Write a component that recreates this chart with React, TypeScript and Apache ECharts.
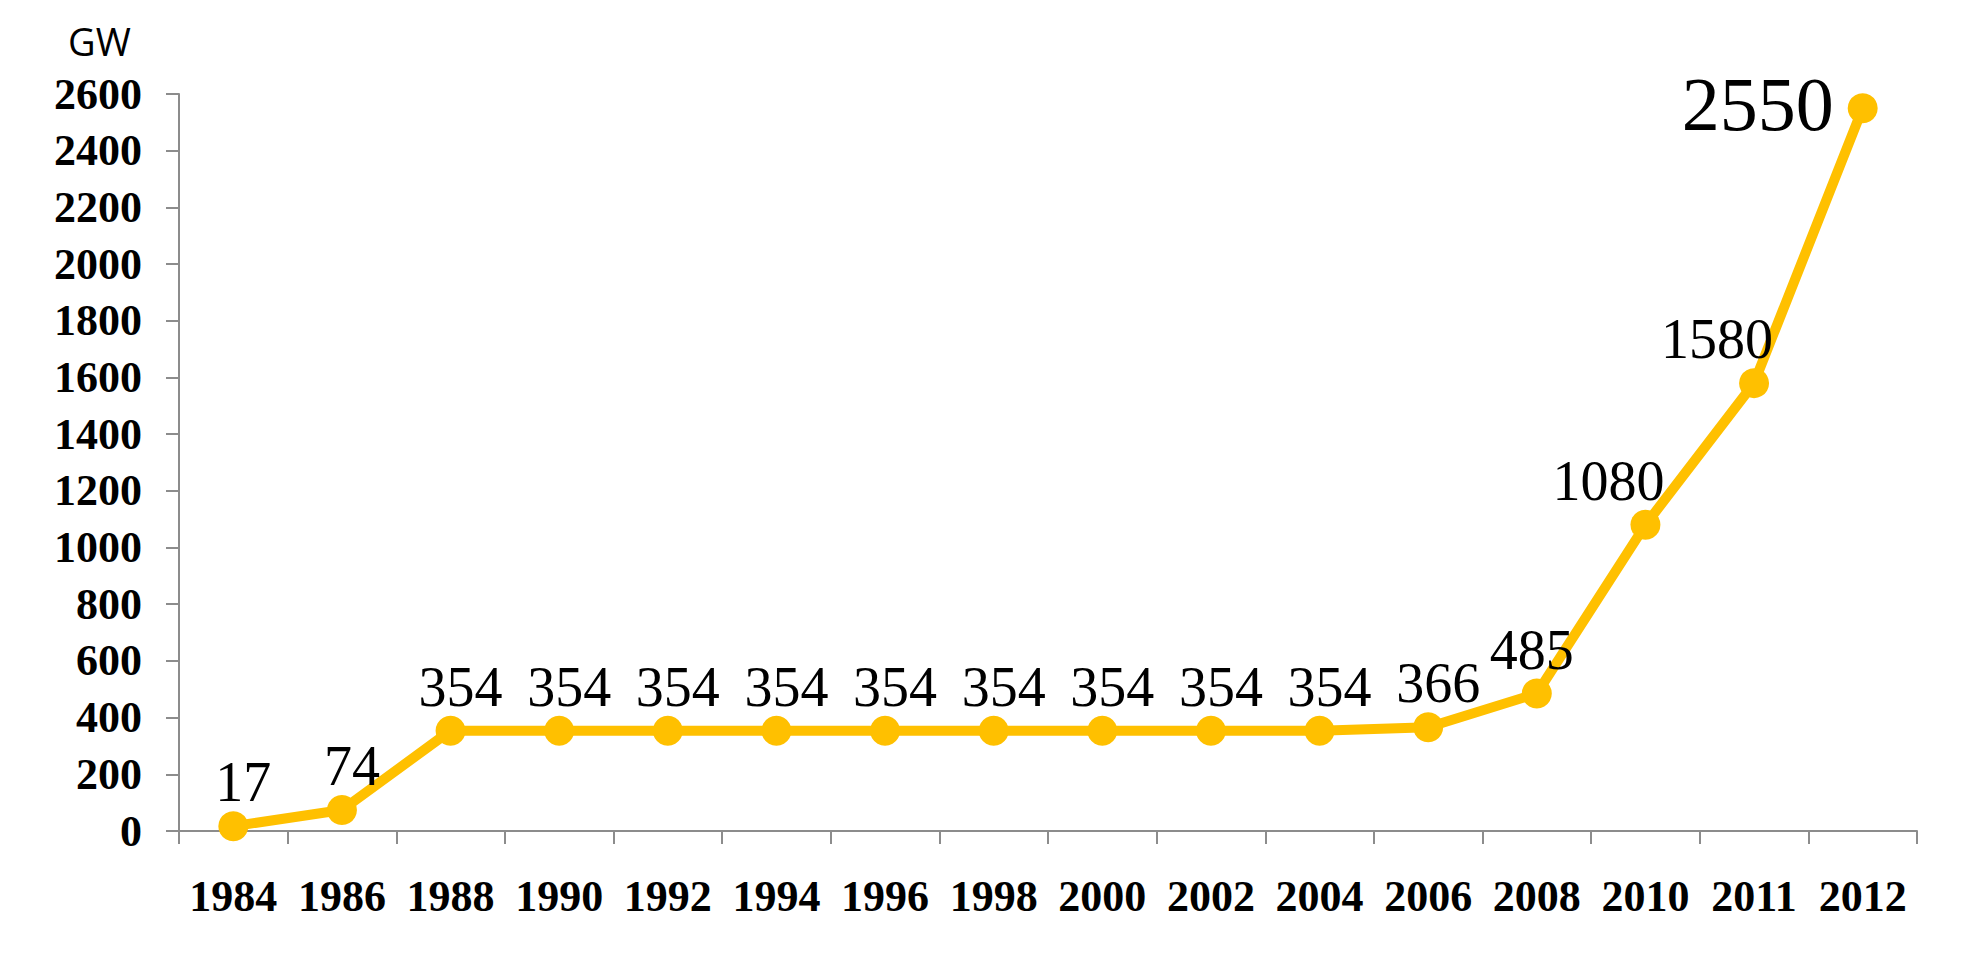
import React, { useEffect, useRef } from "react";
import * as echarts from "echarts";

const years = ["1984", "1986", "1988", "1990", "1992", "1994", "1996", "1998", "2000", "2002", "2004", "2006", "2008", "2010", "2011", "2012"];
const capacity = [17, 74, 354, 354, 354, 354, 354, 354, 354, 354, 354, 366, 485, 1080, 1580, 2550];
const unitLabel = "GW";

const SERIF = "'Liberation Serif', 'Times New Roman', serif";
const GOLD = "#FFC000";
const AXIS = "#8c8c8c";

export default function App() {
  const ref = useRef<HTMLDivElement>(null);
  useEffect(() => {
    document.body.style.margin = "0";
    const chart = echarts.init(ref.current!, undefined, { renderer: "svg" });
    const last = capacity.length - 1;
    const data = capacity.map((v, i) => {
      if (i === last) {
        return {
          value: v,
          label: { position: "left", fontSize: 76, distance: 14, offset: [0, -4] },
        };
      }
      if (i === last - 1 || i === last - 2) {
        return { value: v, label: { offset: [-37, 0] } };
      }
      if (i === last - 3) {
        return { value: v, label: { offset: [-5, 0] } };
      }
      return v;
    });
    chart.setOption({
      animation: false,
      backgroundColor: "#ffffff",
      grid: { left: 179, right: 65, top: 94, bottom: 133, containLabel: false },
      graphic: [
        {
          type: "text",
          left: 68,
          top: 22,
          style: { text: unitLabel, fontSize: 38, fontFamily: "'Open Sans', 'Noto Sans', sans-serif", fill: "#000" },
        },
      ],
      xAxis: {
        type: "category",
        data: years,
        axisLine: { show: true, lineStyle: { color: AXIS, width: 2 } },
        axisTick: { show: true, length: 13, lineStyle: { color: AXIS, width: 2 } },
        axisLabel: { color: "#000", fontSize: 44, fontWeight: "bold", fontFamily: SERIF, margin: 43, interval: 0 },
        splitLine: { show: false },
      },
      yAxis: {
        type: "value",
        min: 0,
        max: 2600,
        interval: 200,
        axisLine: { show: true, lineStyle: { color: AXIS, width: 2 } },
        axisTick: { show: true, length: 13, lineStyle: { color: AXIS, width: 2 } },
        axisLabel: {
          color: "#000",
          fontSize: 44,
          fontWeight: "bold",
          fontFamily: SERIF,
          margin: 37,
          formatter: (v: number) => String(v),
        },
        splitLine: { show: false },
      },
      series: [
        {
          type: "line",
          data,
          symbol: "circle",
          symbolSize: 30,
          lineStyle: { color: GOLD, width: 10 },
          itemStyle: { color: GOLD },
          label: {
            show: true,
            position: "top",
            distance: 1,
            offset: [10, 0],
            color: "#000",
            fontSize: 56,
            fontFamily: SERIF,
          },
        },
      ],
    });
    return () => chart.dispose();
  }, []);
  return <div ref={ref} style={{ width: 1982, height: 964 }} />;
}
